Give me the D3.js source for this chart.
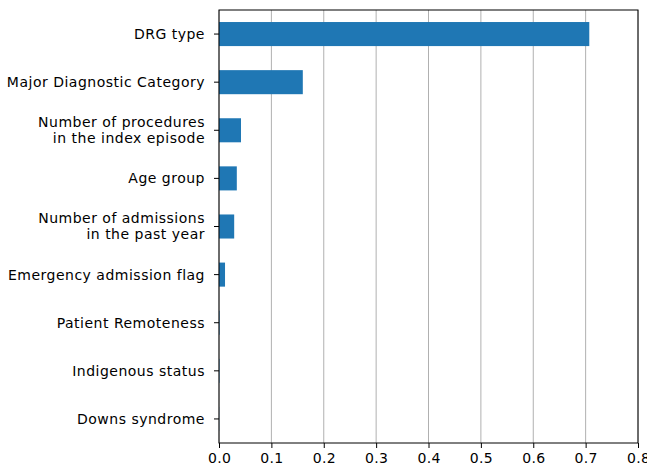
<!DOCTYPE html>
<html><head><meta charset="utf-8">
<script src="https://cdn.jsdelivr.net/npm/d3@7"></script>
<style>body{margin:0;background:#fff;}svg{display:block;}</style>
</head><body>
<svg id="c" width="647" height="471"></svg>
<script>
const categories = [
  "DRG type",
  "Major Diagnostic Category",
  "Number of procedures\nin the index episode",
  "Age group",
  "Number of admissions\nin the past year",
  "Emergency admission flag",
  "Patient Remoteness",
  "Indigenous status",
  "Downs syndrome"
];
const importance = [0.707, 0.160, 0.042, 0.034, 0.029, 0.0115, 0.001, 0.0008, 0.0003];
const xTicks = [0, 0.1, 0.2, 0.3, 0.4, 0.5, 0.6, 0.7, 0.8];

const svg = d3.select("#c");
const m = {left: 219, right: 638, top: 10, bottom: 443};
const font = "DejaVu Sans, sans-serif";
const fs = 14;

const x = d3.scaleLinear().domain([0, 0.8]).range([m.left, m.right]);
const y = d3.scaleBand().domain(categories).range([m.top, m.bottom]).paddingInner(0.5).paddingOuter(0.25);

// grid
svg.append("g").selectAll("line").data(xTicks).join("line")
  .attr("x1", d => x(d)).attr("x2", d => x(d))
  .attr("y1", m.top).attr("y2", m.bottom)
  .attr("stroke", "#b0b0b0").attr("stroke-width", 1);

// bars
svg.append("g").selectAll("rect").data(categories).join("rect")
  .attr("x", x(0))
  .attr("y", d => y(d))
  .attr("width", (d, i) => x(importance[i]) - x(0))
  .attr("height", y.bandwidth())
  .attr("fill", "#1f77b4");

// frame
svg.append("rect").attr("x", m.left).attr("y", m.top)
  .attr("width", m.right - m.left).attr("height", m.bottom - m.top)
  .attr("fill", "none").attr("stroke", "#000").attr("stroke-width", 1);

// x axis
const xa = svg.append("g").attr("transform", `translate(0,${m.bottom})`)
  .call(d3.axisBottom(x).tickValues(xTicks).tickFormat(d3.format(".1f")).tickSize(5).tickPadding(5));
xa.select(".domain").remove();
xa.selectAll("text").attr("font-family", font).attr("font-size", fs).attr("fill", "#000")
  .attr("letter-spacing", 0.3);
xa.selectAll("line").attr("stroke", "#000");

// y axis
const ya = svg.append("g").attr("transform", `translate(${m.left},0)`)
  .call(d3.axisLeft(y).tickSize(5).tickPadding(5).tickFormat(""));
ya.select(".domain").remove();
ya.selectAll("line").attr("stroke", "#000");
ya.selectAll(".tick").each(function(d) {
  const lines = d.split("\n");
  const t = d3.select(this).append("text")
    .attr("x", -14).attr("text-anchor", "end")
    .attr("font-family", font).attr("font-size", fs).attr("fill", "#000")
    .attr("letter-spacing", 0.5);
  const lh = 16;
  const y0 = -(lines.length - 1) * lh / 2;
  lines.forEach((s, k) => {
    t.append("tspan").attr("x", -14).attr("y", y0 + k * lh).attr("dy", "0.35em").text(s);
  });
});
</script>
</body></html>
